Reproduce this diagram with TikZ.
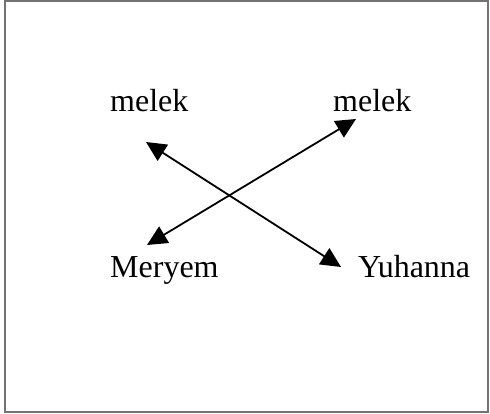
\documentclass[tikz,border=0pt]{standalone}
\usepackage{fontspec}
\setmainfont{Liberation Serif}
\usetikzlibrary{arrows.meta}
\begin{document}
\begin{tikzpicture}[x=1pt,y=-1pt,
  lbl/.style={inner sep=0pt,anchor=base west,font=\fontsize{32}{38}\selectfont},
  conn/.style={line width=1.8pt,{Triangle[length=20pt,width=19pt]}-{Triangle[length=20pt,width=19pt]}}]
\useasboundingbox (0,0) rectangle (490,414);
\draw[line width=1.6pt,draw=black!55] (5,1) rectangle (488,412);
\node[lbl] (m1) at (110,112) {melek};
\node[lbl] (m2) at (333,112) {melek};
\node[lbl] (mer) at (110,277) {Meryem};
\node[lbl] (yuh) at (358,277) {Yuhanna};
\coordinate (a1) at (146,142);
\coordinate (a2) at (341,267);
\coordinate (b1) at (147,245);
\coordinate (b2) at (356,119);
\draw[conn] (a1) -- (a2);
\draw[conn] (b1) -- (b2);
\end{tikzpicture}
\end{document}
